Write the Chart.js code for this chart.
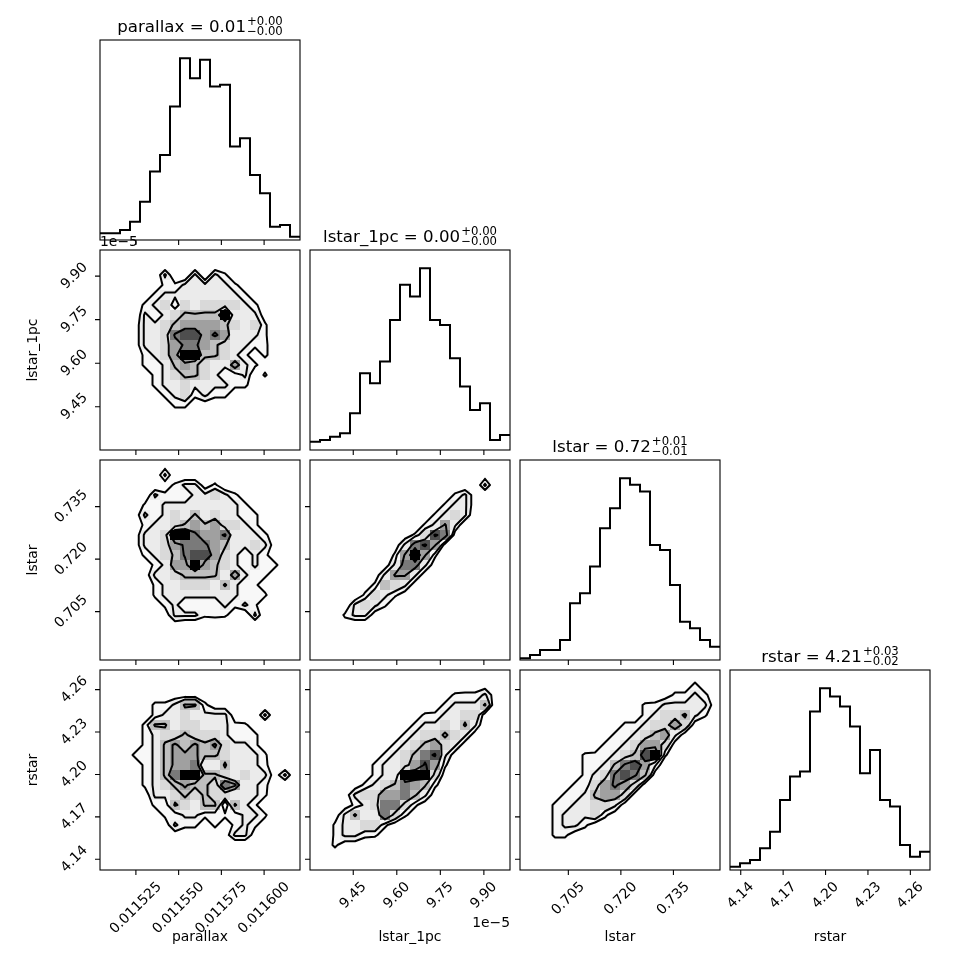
<!DOCTYPE html>
<html>
<head>
<meta charset="utf-8">
<script src="https://cdn.jsdelivr.net/npm/chart.js@4.4.0/dist/chart.umd.min.js"></script>
<style>
html, body { margin: 0; padding: 0; background: #fff; }
#fig { position: relative; width: 970px; height: 970px; }
#fig canvas { position: absolute; left: 0; top: 0; }
</style>
</head>
<body>
<div id="fig"></div>
<script>
// ---- data ----
var labels = ["parallax", "lstar_1pc", "lstar", "rstar"];
var ranges = [[0.011504, 0.011621], [9.301e-5, 9.990e-5], [0.6912, 0.7483], [4.1324, 4.2739]];
var ticks = [
  [0.011525, 0.011550, 0.011575, 0.011600],
  [9.45e-5, 9.60e-5, 9.75e-5, 9.90e-5],
  [0.705, 0.720, 0.735],
  [4.14, 4.17, 4.20, 4.23, 4.26]
];
var tickDecimals = [6, 2, 3, 2];
var tickScale = [1, 1e5, 1, 1];
var medians = ["0.01", "0.00", "0.72", "4.21"];
var errPlus = ["+0.00", "+0.00", "+0.01", "+0.03"];
var errMinus = ["\u22120.00", "\u22120.00", "\u22120.01", "\u22120.02"];

// 1d histograms, 20 bins each
var histParallax = [4, 4, 6, 11, 23, 41, 51, 80, 109, 97, 108, 92, 93, 56, 61, 39, 28, 8, 9, 2];
var histLstar1pc = [5, 6, 8, 10, 22, 46, 40, 53, 78, 99, 92, 109, 78, 75, 55, 38, 24, 28, 6, 9];
var histLstar = [1, 3, 6, 6, 12, 34, 40, 56, 79, 91, 109, 105, 101, 69, 66, 45, 23, 19, 12, 8];
var histRstar = [2, 4, 6, 13, 23, 42, 56, 59, 95, 109, 104, 98, 86, 58, 72, 42, 38, 15, 8, 11];

// 2d histograms, 20x20 bins, rows from top (high y) to bottom.
// each character is a density code, countOfCode turns it into a bin count
var countOfCode = [0, 1, 3, 5, 7, 9, 11, 13, 15, 18];
var gridLstar1pcParallax = [
  "00000001010100000000",
  "00001000001000000000",
  "00000030030320000000",
  "00000122333332100000",
  "00001233333333210000",
  "00012342434444321000",
  "00003234555593331000",
  "00013345666654342000",
  "00013347886763332000",
  "00013346776543322100",
  "00012346995543212100",
  "00012235654336321000",
  "00001234554322302000",
  "00001233433332210000",
  "00000123423221100000",
  "00000012211110000000",
  "00000001101100000000",
  "00000001000100000000",
  "00000000001000000000",
  "00000000000000000000"
];
var gridLstarParallax = [
  "00000010000010000000",
  "00000030001001000000",
  "00000012331200000000",
  "00000322233432100000",
  "00002233333333210000",
  "00013234353433221000",
  "00012334565644321000",
  "00013349976673332100",
  "00013346777653343100",
  "00012345788643232100",
  "00001236696543232210",
  "00001334555536322100",
  "00000233444353221000",
  "00000233333333222000",
  "00000123222232320000",
  "00000013332221030000",
  "00000001000100100000",
  "00000001000100000000",
  "00000000000100000000",
  "00000000000000000000"
];
var gridLstarLstar1pc = [
  "00000000000000000001",
  "00000000000000000110",
  "00000000000000000300",
  "00000000000000231000",
  "00000000000002331000",
  "00000000000023430000",
  "00000000000236300000",
  "00000000012487100000",
  "00000000137861000000",
  "00000000269620000000",
  "00000001377310000000",
  "00000013663100000000",
  "00000125431000000000",
  "00000243210000000000",
  "00003432000000000000",
  "00023310000000000000",
  "00110000000000000000",
  "01100000000000000000",
  "10000000000000000000",
  "10000000000000000000"
];
var gridRstarParallax = [
  "00000100000000000000",
  "00000011010100000000",
  "00000111111110000000",
  "00001223552111000000",
  "00001233433331003000",
  "00012553443332210000",
  "00012344544432221000",
  "00012356565643321000",
  "00122356665543332000",
  "00012356673353332100",
  "00012357995543433130",
  "00012345655476332100",
  "00001334545443332000",
  "00001225435505320000",
  "00000122332222332000",
  "00000113221212321000",
  "00000011111113310000",
  "00000001010100000000",
  "00000000100000000000",
  "00000000000000000000"
];
var gridRstarLstar1pc = [
  "00000000000000000100",
  "00000000000000011110",
  "00000000000001222310",
  "00000000000012333500",
  "00000000001223344100",
  "00000000012334353000",
  "00000000123445431000",
  "00000001234564310000",
  "00000012345783100000",
  "00000123346862000000",
  "00000123399941000000",
  "00001234576521000000",
  "00013446675310000000",
  "00012347742100000000",
  "00135337421000000000",
  "00233442100000000000",
  "00233221000000000000",
  "01211100000000000000",
  "01100000000000000000",
  "00000000000000000000"
];
var gridRstarLstar = [
  "00000000000000001100",
  "00000000000000011210",
  "00000000000001122321",
  "00000000000122333331",
  "00000000001123445320",
  "00000000012234464100",
  "00000000122345631000",
  "00000001223466410000",
  "00000122234589200000",
  "00000122357863000000",
  "00000123478751000000",
  "00001224676410000000",
  "00012235664100000000",
  "00122334431000000000",
  "00123334210000000000",
  "00123321100000000000",
  "00122111000000000000",
  "01111000000000000000",
  "01100000000000000000",
  "00000000000000000000"
];

// contour mass levels 1 - exp(-s^2/2), s = 0.5, 1, 1.5, 2
var levelMass = [0.118, 0.393, 0.675, 0.865];

var hists = [histParallax, histLstar1pc, histLstar, histRstar];
var grids = {
  "1,0": gridLstar1pcParallax,
  "2,0": gridLstarParallax,
  "2,1": gridLstarLstar1pc,
  "3,0": gridRstarParallax,
  "3,1": gridRstarLstar1pc,
  "3,2": gridRstarLstar
};

// ---- layout ----
var fig = document.getElementById("fig");
var W = 970, SIZE = 200;
var colLeft = [100, 310, 520, 730];
var rowTop = [40, 250, 460, 670];
var FONT = '"DejaVu Sans", sans-serif';
var FS = 13.9;

function fmtTick(k, v) {
  return (v * tickScale[k]).toFixed(tickDecimals[k]);
}

function stepPoints(counts, range) {
  var n = counts.length, w = (range[1] - range[0]) / n, pts = [];
  for (var i = 0; i < n; i++) {
    pts.push({x: range[0] + i * w, y: counts[i]});
    pts.push({x: range[0] + (i + 1) * w, y: counts[i]});
  }
  return pts;
}

function gridToH(rows) {
  var ny = rows.length, nx = rows[0].length, H = [];
  for (var i = 0; i < nx; i++) {
    H.push([]);
    for (var j = 0; j < ny; j++) H[i].push(countOfCode[parseInt(rows[ny - 1 - j][i], 10)]);
  }
  return H;
}

function contourLevels(H) {
  var flat = [].concat.apply([], H).sort(function (a, b) { return b - a; });
  var tot = flat.reduce(function (a, b) { return a + b; }, 0), cum = 0;
  var sm = flat.map(function (v) { cum += v; return cum / tot; });
  var V = levelMass.map(function (v0) {
    var val = flat[0];
    for (var k = 0; k < flat.length && sm[k] <= v0; k++) val = flat[k];
    return val;
  });
  V.sort(function (a, b) { return a - b; });
  var out = [];
  V.forEach(function (v) { if (out.indexOf(v - 0.5) < 0) out.push(v - 0.5); });
  return out;
}

// marching squares, edges: 0 bottom, 1 right, 2 top, 3 left
var SEG = {1: [[3, 0]], 2: [[0, 1]], 3: [[3, 1]], 4: [[1, 2]], 6: [[0, 2]], 7: [[3, 2]],
  8: [[2, 3]], 9: [[0, 2]], 11: [[1, 2]], 12: [[1, 3]], 13: [[0, 1]], 14: [[3, 0]]};

function drawContour(ctx, P, L, px, py) {
  for (var i = 0; i < px.length - 1; i++) {
    for (var j = 0; j < py.length - 1; j++) {
      var v0 = P[i][j], v1 = P[i + 1][j], v2 = P[i + 1][j + 1], v3 = P[i][j + 1];
      var c = (v0 > L ? 1 : 0) | (v1 > L ? 2 : 0) | (v2 > L ? 4 : 0) | (v3 > L ? 8 : 0);
      if (c === 0 || c === 15) continue;
      var segs = SEG[c];
      var avg = (v0 + v1 + v2 + v3) / 4;
      if (c === 5) segs = avg > L ? [[0, 1], [2, 3]] : [[3, 0], [1, 2]];
      if (c === 10) segs = avg > L ? [[3, 0], [1, 2]] : [[0, 1], [2, 3]];
      var edge = function (k) {
        var t;
        if (k === 0) { t = (L - v0) / (v1 - v0); return [px[i] + t * (px[i + 1] - px[i]), py[j]]; }
        if (k === 1) { t = (L - v1) / (v2 - v1); return [px[i + 1], py[j] + t * (py[j + 1] - py[j])]; }
        if (k === 2) { t = (L - v3) / (v2 - v3); return [px[i] + t * (px[i + 1] - px[i]), py[j + 1]]; }
        t = (L - v0) / (v3 - v0); return [px[i], py[j] + t * (py[j + 1] - py[j])];
      };
      segs.forEach(function (s) {
        var a = edge(s[0]), b = edge(s[1]);
        ctx.moveTo(a[0], a[1]);
        ctx.lineTo(b[0], b[1]);
      });
    }
  }
}

function drawDensity(chart, cfg) {
  var ctx = chart.ctx, xs = chart.scales.x, ys = chart.scales.y, a = chart.chartArea;
  var H = cfg.H, nx = H.length, ny = H[0].length;
  var xr = ranges[cfg.col], yr = ranges[cfg.row];
  var dx = (xr[1] - xr[0]) / nx, dy = (yr[1] - yr[0]) / ny;
  var hmax = 0;
  H.forEach(function (col) { col.forEach(function (v) { hmax = Math.max(hmax, v); }); });
  ctx.save();
  for (var i = 0; i < nx; i++) {
    for (var j = 0; j < ny; j++) {
      if (!H[i][j]) continue;
      var t = 1 - H[i][j] / hmax, g = Math.round(255 * t);
      ctx.fillStyle = "rgba(" + g + "," + g + "," + g + "," + (1 - t) + ")";
      var x0 = Math.round(xs.getPixelForValue(xr[0] + i * dx)), x1 = Math.round(xs.getPixelForValue(xr[0] + (i + 1) * dx));
      var y0 = Math.round(ys.getPixelForValue(yr[0] + (j + 1) * dy)), y1 = Math.round(ys.getPixelForValue(yr[0] + j * dy));
      ctx.fillRect(x0, y0, x1 - x0, y1 - y0);
    }
  }
  // padded grid on bin centres for the contours
  var P = [], px = [], py = [];
  for (i = 0; i < nx + 2; i++) {
    P.push([]);
    px.push(xs.getPixelForValue(xr[0] + (i - 0.5) * dx));
    for (j = 0; j < ny + 2; j++) {
      P[i].push(i > 0 && j > 0 && i <= nx && j <= ny ? H[i - 1][j - 1] : 0);
    }
  }
  for (j = 0; j < ny + 2; j++) py.push(ys.getPixelForValue(yr[0] + (j - 0.5) * dy));
  ctx.beginPath();
  ctx.rect(a.left, a.top, a.right - a.left, a.bottom - a.top);
  ctx.clip();
  ctx.strokeStyle = "#000";
  ctx.lineWidth = 2;
  ctx.lineJoin = "round";
  ctx.lineCap = "round";
  contourLevels(H).forEach(function (L) {
    ctx.beginPath();
    drawContour(ctx, P, L, px, py);
    ctx.stroke();
  });
  ctx.restore();
}

function rotLabel(ctx, text, cx, cy) {
  ctx.save();
  ctx.translate(cx, cy);
  ctx.rotate(-Math.PI / 4);
  ctx.textAlign = "center";
  ctx.textBaseline = "middle";
  ctx.fillText(text, 0, 0);
  ctx.restore();
}

function drawAxes(chart, cfg) {
  var ctx = chart.ctx, xs = chart.scales.x, ys = chart.scales.y, a = chart.chartArea;
  var i = cfg.row, j = cfg.col;
  ctx.save();
  ctx.strokeStyle = "#000";
  ctx.fillStyle = "#000";
  ctx.lineWidth = 1.1;
  ctx.strokeRect(a.left, a.top, a.right - a.left, a.bottom - a.top);
  ctx.font = FS + "px " + FONT;
  var pad = 9.7;
  ctx.beginPath();
  ticks[j].forEach(function (v) {
    var x = xs.getPixelForValue(v);
    ctx.moveTo(x, a.bottom);
    ctx.lineTo(x, a.bottom + 5);
  });
  if (i !== j) {
    ticks[i].forEach(function (v) {
      var y = ys.getPixelForValue(v);
      ctx.moveTo(a.left, y);
      ctx.lineTo(a.left - 5, y);
    });
  }
  ctx.stroke();
  if (i === 3) {
    ticks[j].forEach(function (v) {
      var s = fmtTick(j, v), w = ctx.measureText(s).width;
      var bb = (w + FS) * Math.SQRT1_2;
      rotLabel(ctx, s, xs.getPixelForValue(v), a.bottom + pad + bb / 2);
    });
    ctx.textAlign = "center";
    ctx.textBaseline = "top";
    ctx.fillText(labels[j], (a.left + a.right) / 2, 930);
  }
  if (j === 0 && i > 0) {
    ticks[i].forEach(function (v) {
      var s = fmtTick(i, v), w = ctx.measureText(s).width;
      var bb = (w + FS) * Math.SQRT1_2;
      rotLabel(ctx, s, a.left - pad - bb / 2, ys.getPixelForValue(v));
    });
    ctx.save();
    ctx.translate(40, (a.top + a.bottom) / 2);
    ctx.rotate(-Math.PI / 2);
    ctx.textAlign = "center";
    ctx.textBaseline = "bottom";
    ctx.fillText(labels[i], 0, 0);
    ctx.restore();
  }
  if (i === 1 && j === 0) {
    ctx.textAlign = "left";
    ctx.textBaseline = "bottom";
    ctx.fillText("1e\u22125", a.left, a.top - 1);
  }
  if (i === 3 && j === 1) {
    ctx.textAlign = "right";
    ctx.textBaseline = "top";
    ctx.fillText("1e\u22125", a.right, 916);
  }
  if (i === j) {
    var big = "16.67px " + FONT, small = "11.7px " + FONT;
    var main = labels[j] + " = " + medians[j];
    ctx.font = big;
    var wm = ctx.measureText(main).width;
    ctx.font = small;
    var ws = Math.max(ctx.measureText(errPlus[j]).width, ctx.measureText(errMinus[j]).width);
    var x0 = (a.left + a.right) / 2 - (wm + ws + 1) / 2;
    ctx.textAlign = "left";
    ctx.textBaseline = "alphabetic";
    ctx.font = big;
    ctx.fillText(main, x0, a.top - 8.3);
    ctx.font = small;
    ctx.fillText(errPlus[j], x0 + wm + 1, a.top - 15);
    ctx.fillText(errMinus[j], x0 + wm + 1, a.top - 5.5);
  }
  ctx.restore();
}

function panelPlugin(cfg) {
  return {
    id: "corner" + cfg.row + cfg.col,
    afterDatasetsDraw: function (chart) { if (cfg.H) drawDensity(chart, cfg); },
    afterDraw: function (chart) { drawAxes(chart, cfg); }
  };
}

function makePanel(i, j) {
  var canvas = document.createElement("canvas");
  canvas.width = W; canvas.height = W;
  canvas.style.width = W + "px"; canvas.style.height = W + "px";
  fig.appendChild(canvas);
  var left = colLeft[j], top = rowTop[i];
  var cfg = {row: i, col: j};
  var type, datasets, yMin, yMax;
  if (i === j) {
    type = "line";
    datasets = [{data: stepPoints(hists[j], ranges[j]), borderColor: "#000", borderWidth: 2,
      pointRadius: 0, fill: false, tension: 0}];
    yMin = 0; yMax = 1.1 * Math.max.apply(null, hists[j]);
  } else {
    type = "scatter";
    datasets = [{data: [], pointRadius: 0}];
    cfg.H = gridToH(grids[i + "," + j]);
    yMin = ranges[i][0]; yMax = ranges[i][1];
  }
  new Chart(canvas, {
    type: type,
    data: {datasets: datasets},
    options: {
      responsive: false,
      animation: false,
      devicePixelRatio: 1,
      events: [],
      layout: {padding: {left: left, top: top, right: W - left - SIZE, bottom: W - top - SIZE}},
      plugins: {legend: {display: false}, tooltip: {enabled: false}},
      scales: {
        x: {type: "linear", display: false, min: ranges[j][0], max: ranges[j][1]},
        y: {type: "linear", display: false, min: yMin, max: yMax}
      }
    },
    plugins: [panelPlugin(cfg)]
  });
}

for (var r = 0; r < 4; r++) {
  for (var c = 0; c <= r; c++) makePanel(r, c);
}
</script>
</body>
</html>
